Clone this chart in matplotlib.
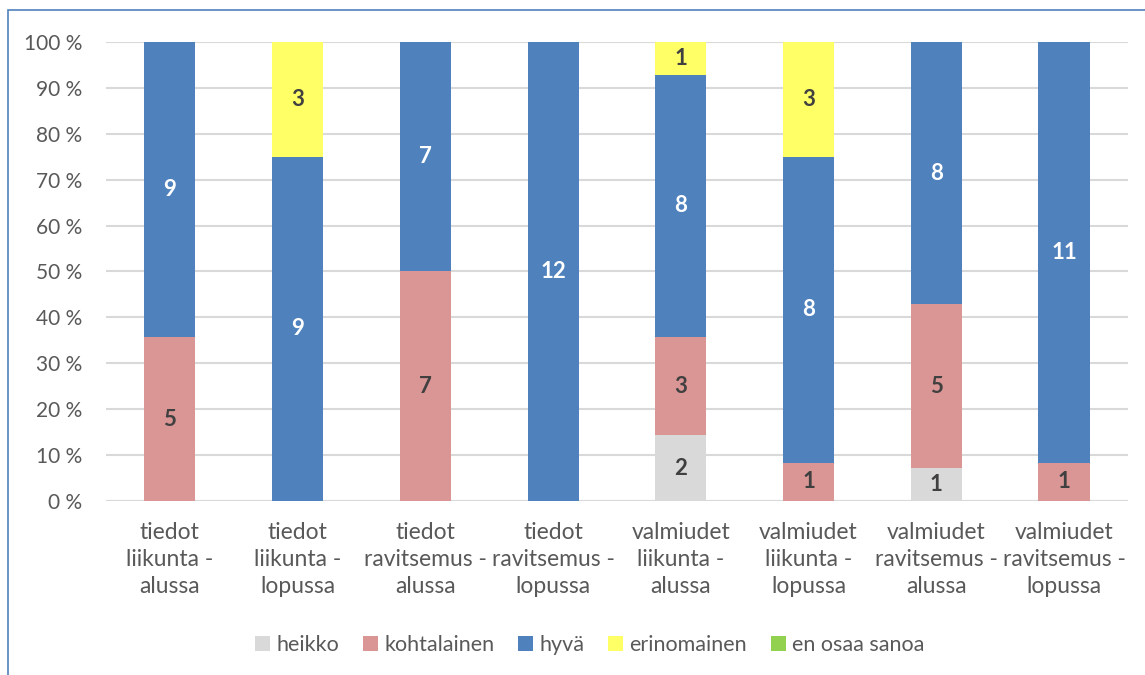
import numpy as np
import matplotlib.pyplot as plt
from matplotlib.patches import Rectangle

# ==================== DATA ====================
categories = [
    "tiedot\nliikunta -\nalussa",
    "tiedot\nliikunta -\nlopussa",
    "tiedot\nravitsemus -\nalussa",
    "tiedot\nravitsemus -\nlopussa",
    "valmiudet\nliikunta -\nalussa",
    "valmiudet\nliikunta -\nlopussa",
    "valmiudet\nravitsemus -\nalussa",
    "valmiudet\nravitsemus -\nlopussa",
]
series_names = ["heikko", "kohtalainen", "hyvä", "erinomainen", "en osaa sanoa"]
heikko = [0, 0, 0, 0, 2, 0, 1, 0]
kohtalainen = [5, 0, 7, 0, 3, 1, 5, 1]
hyva = [9, 9, 7, 12, 8, 8, 8, 11]
erinomainen = [0, 3, 0, 0, 1, 3, 0, 0]
en_osaa = [0, 0, 0, 0, 0, 0, 0, 0]
y_ticks = [0, 10, 20, 30, 40, 50, 60, 70, 80, 90, 100]

colors = ["#D9D9D9", "#D99694", "#4F81BD", "#FFFF66", "#92D050"]
label_colors = ["#404040", "#404040", "white", "#404040", "#404040"]

plt.rcParams['font.family'] = ['Lato', 'DejaVu Sans']

# ==================== PLOT ====================
fig = plt.figure(figsize=(11.45, 6.75), dpi=100)
ax = fig.add_axes([0.0926, 0.2578, 0.8924, 0.68])

counts = np.array([heikko, kohtalainen, hyva, erinomainen, en_osaa], dtype=float)
totals = counts.sum(axis=0)
pct = counts / totals * 100
x = np.arange(len(categories))
bottom = np.zeros(len(categories))

for i, name in enumerate(series_names):
    ax.bar(x, pct[i], 0.4, bottom=bottom, color=colors[i], label=name, zorder=2)
    for j in range(len(categories)):
        if counts[i, j] > 0:
            ax.text(x[j], bottom[j] + pct[i, j] / 2, f"{int(counts[i, j])}",
                    ha='center', va='center', fontsize=16, fontweight='bold',
                    color=label_colors[i], zorder=3)
    bottom += pct[i]

ax.set_xlim(-0.5, len(categories) - 0.5)
ax.set_ylim(0, 100)
ax.set_yticks(y_ticks)
ax.set_yticklabels([f"{t} %" for t in y_ticks], fontsize=15)
ax.set_xticks(x)
ax.set_xticklabels(categories, linespacing=1.35, fontsize=16.5)
ax.tick_params(axis='both', length=0, labelcolor='#595959')
ax.tick_params(axis='x', pad=15)
ax.tick_params(axis='y', pad=17)
ax.grid(axis='y', color='#D9D9D9', linewidth=1.5, zorder=0)
for s in ax.spines.values():
    s.set_visible(False)
ax.axhline(0, color='#D9D9D9', linewidth=1.5, zorder=1)

leg = fig.legend(loc='center', bbox_to_anchor=(0.515, 0.044), ncol=5, frameon=False,
                 fontsize=15.5, handlelength=0.7, handleheight=0.7, handletextpad=0.3,
                 columnspacing=1.1)
for t in leg.get_texts():
    t.set_color('#595959')

# chart frame (left and top edges visible)
fig.patches.append(Rectangle((8 / 1145, -0.1), 1.2, 1 - 10 / 675 + 0.1,
                             transform=fig.transFigure, fill=False,
                             edgecolor='#4F81BD', linewidth=1.2))

fig.savefig("out.png", dpi=100)
